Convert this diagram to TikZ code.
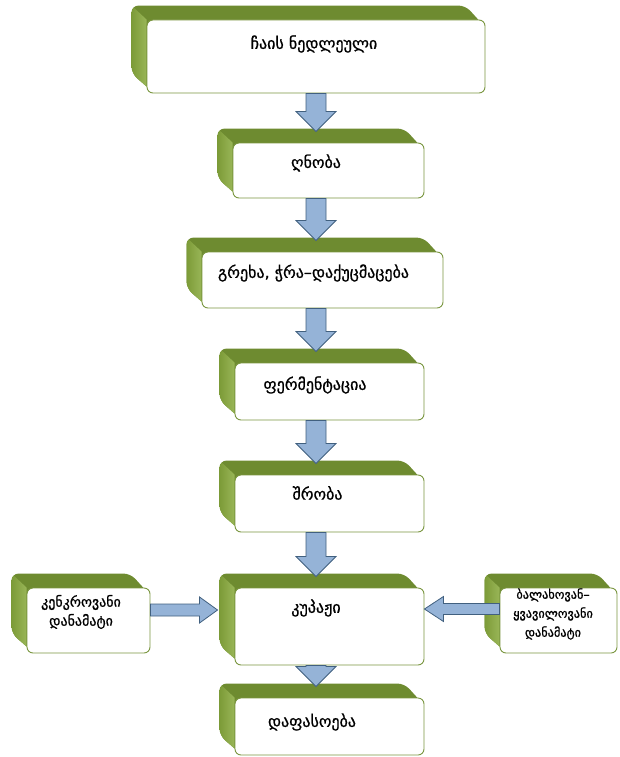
\documentclass[tikz,border=0pt]{standalone}
\usepackage{fontspec}
\setmainfont{DejaVu Sans}
\newfontfamily\geo[FakeBold=0.9]{DejaVu Sans}
\usetikzlibrary{calc,backgrounds}
\definecolor{gtop}{HTML}{6E8B30}
\definecolor{gleft}{HTML}{7C9B38}
\definecolor{glight}{HTML}{A9C468}
\definecolor{gline}{HTML}{7A9640}
\definecolor{afill}{HTML}{95B3D7}
\definecolor{aline}{HTML}{41607F}
\tikzset{
  face/.style={draw=gline, line width=0.9pt, fill=white, rounded corners=6pt, inner sep=0pt},
  lab/.style={font=\geo\fontsize{16}{19}\selectfont, align=center, inner sep=0pt},
  slab/.style={font=\geo\fontsize{14}{19}\selectfont, align=center, inner sep=0pt},
  rlab/.style={font=\geo\fontsize{12.3}{19}\selectfont, align=center, inner sep=0pt},
  barrow/.style={draw=aline, fill=afill, line width=0.8pt, line join=miter},
}
\newcommand\extr[1]{%
  \coordinate (#1-tl) at ($(#1.north west)+(-15pt,14pt)$);
  \coordinate (#1-tr) at ($(#1.north east)+(-20pt,14pt)$);
  \coordinate (#1-tre) at ($(#1.north east)+(0pt,-8pt)$);
  \coordinate (#1-bl) at ($(#1.south west)+(-15pt,20pt)$);
  \coordinate (#1-ble) at ($(#1.south west)+(8pt,0pt)$);
  \begin{pgfonlayer}{background}
    \fill[gtop, rounded corners=7pt] (#1-tre) -- (#1-tr) -- (#1-tl) -- (#1-bl) -- (#1-ble) -- (#1.center) -- cycle;
    \begin{scope}
      \clip[rounded corners=7pt] (#1-tre) -- (#1-tr) -- (#1-tl) -- (#1-bl) -- (#1-ble) -- (#1.center) -- cycle;
      \shade[left color=gleft, right color=glight] (#1-tl) -- (#1-bl) -- (#1-ble) -- (#1.south west) -- (#1.north west) -- cycle;
    \end{scope}
  \end{pgfonlayer}}
\newcommand\varrow[2]{%
  \draw[barrow] let \p0=(col), \p1=(#1.south), \p2=(#2.north) in
    (\x0-10pt,\y1) -- (\x0-10pt,\y2+31pt) -- (\x0-20pt,\y2+31pt) -- (\x0,\y2+11pt)
    -- (\x0+20pt,\y2+31pt) -- (\x0+10pt,\y2+31pt) -- (\x0+10pt,\y1) -- cycle;}
\newcommand\harrowR[2]{%
  \draw[barrow] let \p1=(#1.east), \p2=(#2.west) in
    (\x1,\y1+4.5pt) -- (\x2-35pt,\y1+4.5pt) -- (\x2-35pt,\y1-2.5pt) -- (\x2-17pt,\y1+10.5pt)
    -- (\x2-35pt,\y1+23.5pt) -- (\x2-35pt,\y1+16.5pt) -- (\x1,\y1+16.5pt) -- cycle;}
\newcommand\harrowL[2]{%
  \draw[barrow] let \p1=(#1.west), \p2=(#2.east) in
    (\x1,\y1+6pt) -- (\x2+19pt,\y1+6pt) -- (\x2+19pt,\y1-1pt) -- (\x2,\y1+11.5pt)
    -- (\x2+19pt,\y1+24pt) -- (\x2+19pt,\y1+17pt) -- (\x1,\y1+17pt) -- cycle;}
\begin{document}
\begin{tikzpicture}[x=1pt,y=-1pt]
\useasboundingbox (0,0) rectangle (619,757);
\coordinate (col) at (316,0);
\node[face, minimum width=338pt, minimum height=73pt,
  label={[lab, xshift=-2pt, yshift=12.5pt]center:ჩაის ნედლეული}] (b1) at (316,56.5) {};
\node[face, minimum width=191pt, minimum height=55pt,
  label={[lab, xshift=-12.5pt, yshift=7.5pt]center:ღნობა}] (b2) at (328.5,170.5) {};
\node[face, minimum width=241pt, minimum height=56pt,
  label={[lab, xshift=-9pt, yshift=7pt]center:{გრეხა, ჭრა–დაქუცმაცება}}] (b3) at (322.5,280) {};
\node[face, minimum width=189pt, minimum height=57pt,
  label={[lab, xshift=-14.5pt, yshift=6.5pt]center:ფერმენტაცია}] (b4) at (329.5,391.5) {};
\node[face, minimum width=189pt, minimum height=57pt,
  label={[lab, xshift=-12pt, yshift=10.5pt]center:შრობა}] (b5) at (329.5,503.5) {};
\node[face, minimum width=189pt, minimum height=77pt,
  label={[lab, xshift=-13.5pt, yshift=18.5pt]center:კუპაჟი}] (b6) at (329.5,626.5) {};
\node[face, minimum width=189pt, minimum height=57pt,
  label={[lab, xshift=-17.5pt, yshift=4.5pt]center:დაფასოება}] (b7) at (329.5,726.5) {};
\node[face, minimum width=123pt, minimum height=65pt,
  label={[slab, xshift=-7.5pt, yshift=8.5pt]center:{კენკროვანი\\დანამატი}}] (bl) at (88.5,620.5) {};
\node[face, minimum width=117pt, minimum height=65pt,
  label={[rlab, xshift=-5.5pt, yshift=6.5pt]center:{ბალახოვან–\\ყვავილოვანი\\დანამატი}}] (br) at (558.5,620.5) {};
\extr{b1}\extr{b2}\extr{b3}\extr{b4}\extr{b5}\extr{b6}\extr{b7}\extr{bl}\extr{br}
\varrow{b1}{b2}
\varrow{b2}{b3}
\varrow{b3}{b4}
\varrow{b4}{b5}
\varrow{b5}{b6}
\varrow{b6}{b7}
\harrowR{bl}{b6}
\harrowL{br}{b6}
\end{tikzpicture}
\end{document}
